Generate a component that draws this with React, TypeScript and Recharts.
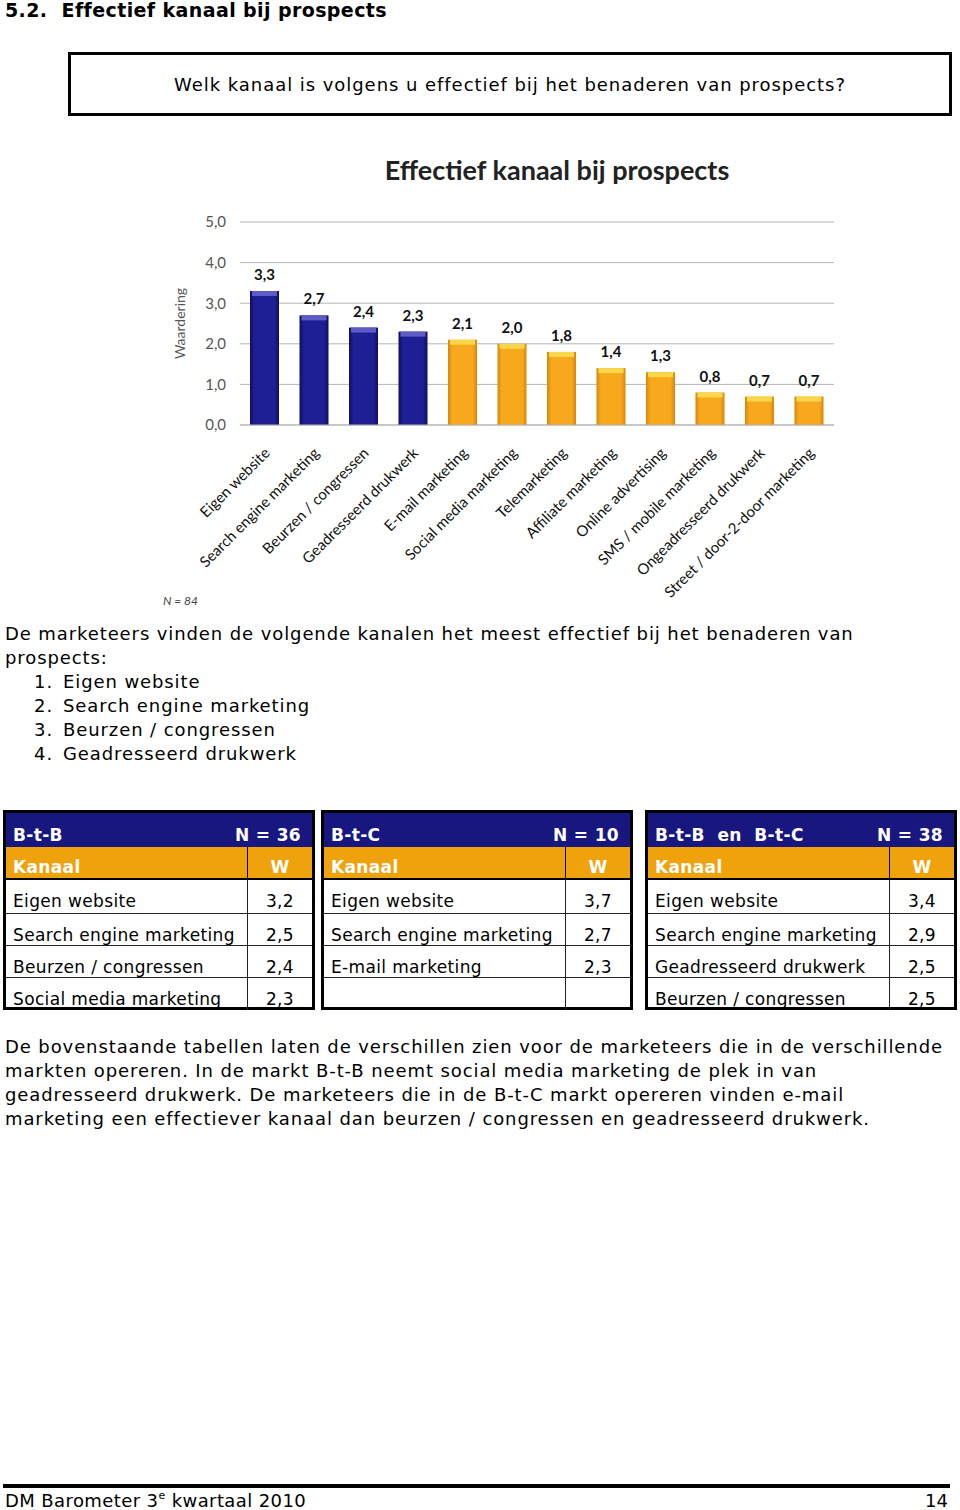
import React from "react";
import { BarChart, Bar, XAxis, YAxis, CartesianGrid, LabelList } from "recharts";

// chart data
const channels = [
  "Eigen website",
  "Search engine marketing",
  "Beurzen / congressen",
  "Geadresseerd drukwerk",
  "E-mail marketing",
  "Social media marketing",
  "Telemarketing",
  "Affiliate marketing",
  "Online advertising",
  "SMS / mobile marketing",
  "Ongeadresseerd drukwerk",
  "Street / door-2-door marketing",
];
const ratings = [3.3, 2.7, 2.4, 2.3, 2.1, 2.0, 1.8, 1.4, 1.3, 0.8, 0.7, 0.7];
const topCount = 4;
const yTicks = [0, 1, 2, 3, 4, 5];

// list under the chart
const topChannels = ["Eigen website", "Search engine marketing", "Beurzen / congressen", "Geadresseerd drukwerk"];

// tables per market
const btbRows = [
  ["Eigen website", "3,2"],
  ["Search engine marketing", "2,5"],
  ["Beurzen / congressen", "2,4"],
  ["Social media marketing", "2,3"],
];
const btcRows = [
  ["Eigen website", "3,7"],
  ["Search engine marketing", "2,7"],
  ["E-mail marketing", "2,3"],
  ["", ""],
];
const bothRows = [
  ["Eigen website", "3,4"],
  ["Search engine marketing", "2,9"],
  ["Geadresseerd drukwerk", "2,5"],
  ["Beurzen / congressen", "2,5"],
];

const introLines = [
  "De marketeers vinden de volgende kanalen het meest effectief bij het benaderen van",
  "prospects:",
];
const closingLines = [
  "De bovenstaande tabellen laten de verschillen zien voor de marketeers die in de verschillende",
  "markten opereren. In de markt B-t-B neemt social media marketing de plek in van",
  "geadresseerd drukwerk. De marketeers die in de B-t-C markt opereren vinden e-mail",
  "marketing een effectiever kanaal dan beurzen / congressen en geadresseerd drukwerk.",
];

const chartData = channels.map((name, i) => ({ name, value: ratings[i], top: i < topCount }));

const comma = (v: number) => v.toFixed(1).replace(".", ",");

const BODY_FONT = "'DejaVu Sans', Verdana, sans-serif";
const CHART_FONT = "Lato, 'Open Sans', sans-serif";
const NAVY = "#17177f";
const ORANGE = "#f0a20c";
const SPACING = "0.9px";

function BarShape(props: any) {
  const { x, y, width, height, payload } = props;
  if (!height || height <= 0) return null;
  const isTop = payload && payload.top;
  return (
    <g>
      <rect x={x} y={y} width={width} height={height} fill={isTop ? "url(#gBlue)" : "url(#gOrange)"} />
      <rect x={x + 2} y={y} width={width - 4} height={Math.min(5, height)} fill={isTop ? "#5c5cc4" : "#f9d64a"} />
    </g>
  );
}

function ChannelTick(props: any) {
  const { x, y, payload } = props;
  return (
    <text
      transform={`translate(${x + 6},${y + 21}) rotate(-45)`}
      textAnchor="end"
      fontSize={15}
      fontFamily={CHART_FONT}
      fill="#111"
    >
      {payload.value}
    </text>
  );
}

function MarketTable({ left, title, n, rows }: { left: number; title: string; n: string; rows: string[][] }) {
  const rowH = [35, 33, 33, 33];
  return (
    <div
      style={{
        position: "absolute",
        left,
        top: 810,
        width: 312,
        height: 200,
        boxSizing: "border-box",
        border: "3px solid #000",
        fontFamily: BODY_FONT,
        fontSize: 17,
        letterSpacing: "0.35px",
        background: "#fff",
      }}
    >
      <div
        style={{
          height: 34,
          background: NAVY,
          color: "#fff",
          fontWeight: "bold",
          display: "flex",
          justifyContent: "space-between",
          alignItems: "flex-end",
          padding: "0 11px 2px 7px",
          boxSizing: "border-box",
          whiteSpace: "pre",
        }}
      >
        <span>{title}</span>
        <span>{n}</span>
      </div>
      <div
        style={{
          height: 33,
          background: ORANGE,
          color: "#fff",
          fontWeight: "bold",
          display: "flex",
          borderBottom: "2px solid #000",
          boxSizing: "border-box",
        }}
      >
        <div style={{ width: 242, padding: "10px 0 0 7px", boxSizing: "border-box", borderRight: "1px solid #000" }}>Kanaal</div>
        <div style={{ flex: 1, textAlign: "center", paddingTop: 10 }}>W</div>
      </div>
      {rows.map((r, i) => (
        <div
          key={i}
          style={{
            height: rowH[i] - 1,
            display: "flex",
            borderBottom: i < rows.length - 1 ? "1px solid #222" : "none",
            boxSizing: "border-box",
            color: "#000",
          }}
        >
          <div
            style={{
              width: 242,
              padding: "11px 0 0 7px",
              boxSizing: "border-box",
              borderRight: "1px solid #222",
              whiteSpace: "nowrap",
              overflow: "hidden",
            }}
          >
            {r[0]}
          </div>
          <div style={{ flex: 1, textAlign: "center", paddingTop: 11 }}>{r[1]}</div>
        </div>
      ))}
    </div>
  );
}

export default function App() {
  return (
    <div
      style={{
        position: "absolute",
        left: 0,
        top: 0,
        width: 960,
        height: 1510,
        background: "#fff",
        overflow: "hidden",
        fontFamily: BODY_FONT,
        color: "#000",
      }}
    >
      <div
        style={{
          position: "absolute",
          left: 5,
          top: -1,
          fontSize: 19,
          fontWeight: "bold",
          lineHeight: "22px",
          whiteSpace: "pre",
          letterSpacing: "0.4px",
        }}
      >
        {"5.2.  Effectief kanaal bij prospects"}
      </div>

      <div
        style={{
          position: "absolute",
          left: 68,
          top: 52,
          width: 884,
          height: 64,
          boxSizing: "border-box",
          border: "3px solid #000",
          display: "flex",
          alignItems: "center",
          justifyContent: "center",
          fontSize: 18,
          letterSpacing: "0.95px",
        }}
      >
        Welk kanaal is volgens u effectief bij het benaderen van prospects?
      </div>

      {/* chart */}
      <div style={{ position: "absolute", left: 150, top: 140, width: 700, height: 470 }}>
        <div
          style={{
            position: "absolute",
            left: 407 - 300,
            top: 15,
            width: 600,
            textAlign: "center",
            fontFamily: CHART_FONT,
            fontWeight: "bold",
            fontSize: 27,
            lineHeight: "30px",
            color: "#222",
          }}
        >
          Effectief kanaal bij prospects
        </div>
        <BarChart
          width={700}
          height={470}
          data={chartData}
          margin={{ top: 82, right: 16, left: 30, bottom: 15 }}
          barSize={29}
        >
          <defs>
            <linearGradient id="gBlue" x1="0" y1="0" x2="1" y2="0">
              <stop offset="0%" stopColor="#0e0e5e" />
              <stop offset="15%" stopColor="#1e1e95" />
              <stop offset="85%" stopColor="#1e1e95" />
              <stop offset="100%" stopColor="#0e0e5e" />
            </linearGradient>
            <linearGradient id="gOrange" x1="0" y1="0" x2="1" y2="0">
              <stop offset="0%" stopColor="#d8860a" />
              <stop offset="15%" stopColor="#f7a81c" />
              <stop offset="85%" stopColor="#f7a81c" />
              <stop offset="100%" stopColor="#d8860a" />
            </linearGradient>
          </defs>
          <CartesianGrid vertical={false} stroke="#b5b5b5" />
          <XAxis
            dataKey="name"
            interval={0}
            height={170}
            tickLine={false}
            axisLine={{ stroke: "#b5b5b5" }}
            tick={<ChannelTick />}
          />
          <YAxis
            domain={[0, 5]}
            ticks={yTicks}
            width={60}
            axisLine={false}
            tickLine={false}
            tickMargin={8}
            tickFormatter={comma}
            tick={{ fill: "#555", fontSize: 15, fontFamily: CHART_FONT }}
            label={{
              value: "Waardering",
              angle: -90,
              position: "center",
              dx: -30,
              fill: "#555",
              fontSize: 14,
              fontFamily: CHART_FONT,
            }}
          />
          <Bar dataKey="value" shape={<BarShape />} isAnimationActive={false}>
            <LabelList
              dataKey="value"
              position="top"
              offset={11}
              formatter={(v: any) => comma(Number(v))}
              style={{ fontWeight: "bold", fontSize: 15, fontFamily: CHART_FONT, fill: "#111" }}
            />
          </Bar>
        </BarChart>
        <div
          style={{
            position: "absolute",
            left: 13,
            top: 453,
            fontFamily: CHART_FONT,
            fontStyle: "italic",
            fontSize: 12,
            color: "#444",
          }}
        >
          N = 84
        </div>
      </div>

      {/* text under chart */}
      {introLines.map((l, i) => (
        <div
          key={i}
          style={{ position: "absolute", left: 5, top: 622 + i * 24, fontSize: 18, lineHeight: "24px", whiteSpace: "pre", letterSpacing: SPACING }}
        >
          {l}
        </div>
      ))}
      {topChannels.map((c, i) => (
        <div
          key={c}
          style={{ position: "absolute", left: 0, top: 670 + i * 24, fontSize: 18, lineHeight: "24px", whiteSpace: "pre", letterSpacing: SPACING }}
        >
          <span style={{ display: "inline-block", width: 53, textAlign: "right" }}>{i + 1}.</span>
          <span style={{ marginLeft: 10 }}>{c}</span>
        </div>
      ))}

      <MarketTable left={3} title="B-t-B" n="N = 36" rows={btbRows} />
      <MarketTable left={321} title="B-t-C" n="N = 10" rows={btcRows} />
      <MarketTable left={645} title="B-t-B  en  B-t-C" n="N = 38" rows={bothRows} />

      {closingLines.map((l, i) => (
        <div
          key={i}
          style={{ position: "absolute", left: 5, top: 1035 + i * 24, fontSize: 18, lineHeight: "24px", whiteSpace: "pre", letterSpacing: SPACING }}
        >
          {l}
        </div>
      ))}

      {/* footer */}
      <div style={{ position: "absolute", left: 3, top: 1484, width: 947, height: 4, background: "#000" }} />
      <div style={{ position: "absolute", left: 5, top: 1490, fontSize: 18, lineHeight: "22px", letterSpacing: "0.4px" }}>
        DM Barometer 3<sup style={{ fontSize: 11, verticalAlign: "top", lineHeight: "12px" }}>e</sup> kwartaal 2010
      </div>
      <div style={{ position: "absolute", right: 12, top: 1490, fontSize: 18, lineHeight: "22px" }}>14</div>
    </div>
  );
}
